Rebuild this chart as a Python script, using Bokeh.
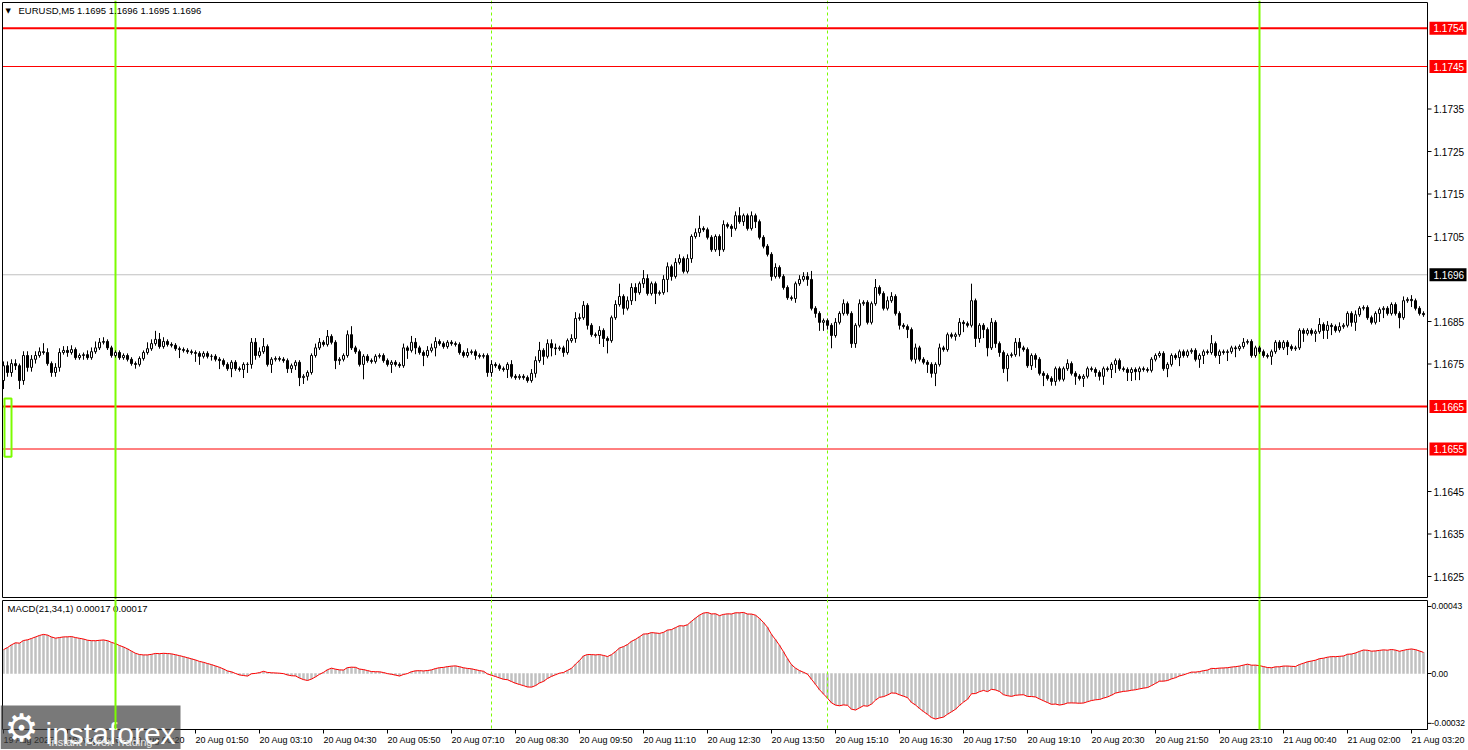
from bokeh.plotting import figure
from bokeh.models import Range1d, ColumnDataSource
from bokeh.layouts import column
from bokeh.embed import file_html
from bokeh.resources import INLINE
from bokeh.core.properties import value

FONT = "Liberation Sans"

# ---------------- data ----------------
first_open = 1.16711
closes = [
    1.16746, 1.16730, 1.16751, 1.16746, 1.16711, 1.16770, 1.16742, 1.16761, 1.16770, 1.16779,
    1.16777, 1.16751, 1.16730, 1.16742, 1.16777, 1.16782, 1.16777, 1.16784, 1.16765, 1.16770,
    1.16772, 1.16765, 1.16779, 1.16788, 1.16801, 1.16803, 1.16788, 1.16770, 1.16777, 1.16765,
    1.16770, 1.16761, 1.16751, 1.16749, 1.16763, 1.16777, 1.16786, 1.16798, 1.16808, 1.16791,
    1.16803, 1.16796, 1.16794, 1.16786, 1.16784, 1.16782, 1.16779, 1.16777, 1.16775, 1.16768,
    1.16775, 1.16768, 1.16768, 1.16761, 1.16758, 1.16749, 1.16739, 1.16754, 1.16739, 1.16737,
    1.16749, 1.16749, 1.16801, 1.16770, 1.16779, 1.16791, 1.16749, 1.16761, 1.16763, 1.16761,
    1.16758, 1.16739, 1.16746, 1.16754, 1.16718, 1.16721, 1.16730, 1.16770, 1.16788, 1.16801,
    1.16796, 1.16815, 1.16801, 1.16758, 1.16761, 1.16770, 1.16819, 1.16788, 1.16779, 1.16749,
    1.16768, 1.16758, 1.16756, 1.16768, 1.16770, 1.16758, 1.16749, 1.16754, 1.16749, 1.16746,
    1.16788, 1.16782, 1.16801, 1.16788, 1.16777, 1.16770, 1.16782, 1.16788, 1.16803, 1.16798,
    1.16791, 1.16801, 1.16798, 1.16796, 1.16777, 1.16770, 1.16777, 1.16779, 1.16770, 1.16768,
    1.16770, 1.16730, 1.16749, 1.16746, 1.16739, 1.16737, 1.16749, 1.16721, 1.16718, 1.16721,
    1.16718, 1.16711, 1.16728, 1.16758, 1.16782, 1.16768, 1.16798, 1.16788, 1.16786, 1.16788,
    1.16777, 1.16805, 1.16810, 1.16857, 1.16859, 1.16888, 1.16841, 1.16819, 1.16817, 1.16829,
    1.16810, 1.16805, 1.16859, 1.16890, 1.16909, 1.16881, 1.16899, 1.16930, 1.16918, 1.16939,
    1.16951, 1.16916, 1.16939, 1.16916, 1.16918, 1.16949, 1.16979, 1.16956, 1.16989, 1.16998,
    1.16968, 1.16998, 1.17050, 1.17059, 1.17069, 1.17066, 1.17048, 1.17019, 1.17050, 1.17019,
    1.17078, 1.17074, 1.17069, 1.17099, 1.17085, 1.17099, 1.17069, 1.17099, 1.17085, 1.17048,
    1.17027, 1.17008, 1.16956, 1.16977, 1.16956, 1.16930, 1.16906, 1.16904, 1.16939, 1.16949,
    1.16956, 1.16949, 1.16881, 1.16869, 1.16848, 1.16852, 1.16841, 1.16817, 1.16848, 1.16869,
    1.16892, 1.16869, 1.16798, 1.16841, 1.16892, 1.16895, 1.16848, 1.16892, 1.16930, 1.16916,
    1.16881, 1.16899, 1.16909, 1.16869, 1.16841, 1.16838, 1.16831, 1.16761, 1.16788, 1.16761,
    1.16754, 1.16749, 1.16728, 1.16749, 1.16788, 1.16784, 1.16819, 1.16815, 1.16819, 1.16848,
    1.16845, 1.16841, 1.16899, 1.16810, 1.16841, 1.16831, 1.16788, 1.16848, 1.16798, 1.16777,
    1.16739, 1.16770, 1.16772, 1.16801, 1.16788, 1.16784, 1.16746, 1.16770, 1.16761, 1.16728,
    1.16723, 1.16716, 1.16709, 1.16739, 1.16714, 1.16739, 1.16751, 1.16728, 1.16721, 1.16716,
    1.16721, 1.16739, 1.16737, 1.16730, 1.16721, 1.16739, 1.16737, 1.16749, 1.16758, 1.16739,
    1.16737, 1.16730, 1.16737, 1.16732, 1.16739, 1.16737, 1.16735, 1.16761, 1.16770, 1.16775,
    1.16739, 1.16749, 1.16770, 1.16765, 1.16779, 1.16770, 1.16779, 1.16782, 1.16761, 1.16770,
    1.16779, 1.16777, 1.16798, 1.16770, 1.16779, 1.16777, 1.16779, 1.16788, 1.16786, 1.16791,
    1.16801, 1.16803, 1.16770, 1.16788, 1.16779, 1.16770, 1.16768, 1.16779, 1.16801, 1.16788,
    1.16801, 1.16791, 1.16786, 1.16788, 1.16829, 1.16822, 1.16829, 1.16822, 1.16826, 1.16843,
    1.16829, 1.16841, 1.16838, 1.16829, 1.16838, 1.16841, 1.16869, 1.16848, 1.16866, 1.16881,
    1.16883, 1.16859, 1.16848, 1.16869, 1.16878, 1.16881, 1.16869, 1.16890, 1.16869, 1.16859,
    1.16899, 1.16902, 1.16899, 1.16881, 1.16869, 1.16866,
]
# wick lengths above / below the body, in pips
upper_wick_pips = [
    1, 1, 1, 1, 0.5, 1, 1, 1, 1, 1,
    2, 1, 0.5, 1, 1, 1, 1, 1, 0.5, 0.5,
    0.5, 1, 1, 1.5, 1, 1, 0.5, 0.5, 0.5, 0.5,
    0.5, 0.5, 0.5, 0.5, 0.5, 0.5, 1.5, 1, 2, 1.5,
    1, 0.5, 0.5, 0.5, 0.5, 0.5, 0.5, 0.5, 0.5, 0.5,
    0.5, 0.5, 0.5, 0.5, 0.5, 0.5, 0.5, 0.5, 0.5, 0.5,
    0.5, 0.5, 1, 1, 1, 2, 0.5, 0.5, 0.5, 0.5,
    0.5, 0.5, 0.5, 0.5, 0.5, 0.5, 0.5, 0.5, 1, 1,
    0.5, 1.5, 0.5, 0.5, 0.5, 0.5, 1, 2, 0.5, 0.5,
    0.5, 0.5, 0.5, 0.5, 0.5, 0.5, 0.5, 0.5, 0.5, 0.5,
    1, 0.5, 1.5, 1, 0.5, 0.5, 1, 1, 1, 0.5,
    0.5, 0.5, 0.5, 0.5, 0.5, 0.5, 1, 0.5, 0.5, 0.5,
    0.5, 0.5, 1, 0.5, 0.5, 0.5, 0.5, 1, 0.5, 0.5,
    0.5, 0.5, 1, 1, 2, 0.5, 1, 1, 1, 0.5,
    0.5, 0.5, 1, 1.5, 1, 1, 0.5, 0.5, 0.5, 1,
    0.5, 0.5, 0.5, 1, 3, 0.5, 1, 1, 1, 0.5,
    2, 1, 0.5, 0.5, 0.5, 1, 1, 0.5, 1, 1,
    0.5, 1, 0.5, 1, 3, 0.5, 0.5, 0.5, 0.5, 0.5,
    1, 0.5, 0.5, 1, 2, 0.5, 0.5, 1, 0.5, 0.5,
    0.5, 0.5, 0.5, 1, 0.5, 0.5, 0.5, 0.5, 0.5, 1,
    1, 1, 2, 0.5, 0.5, 0.5, 0.5, 0.5, 1, 0.5,
    1, 0.5, 0.5, 0.5, 1, 0.5, 0.5, 0.5, 2, 0.5,
    0.5, 1, 1, 0.5, 0.5, 0.5, 0.5, 0.5, 1, 0.5,
    0.5, 0.5, 0.5, 0.5, 1, 0.5, 0.5, 0.5, 0.5, 1,
    0.5, 0.5, 4, 0.5, 0.5, 0.5, 0.5, 1, 0.5, 0.5,
    0.5, 0.5, 0.5, 1, 1, 0.5, 0.5, 0.5, 0.5, 0.5,
    0.5, 0.5, 0.5, 0.5, 0.5, 0.5, 1, 0.5, 0.5, 0.5,
    0.5, 0.5, 0.5, 0.5, 0.5, 0.5, 0.5, 0.5, 0.5, 0.5,
    0.5, 0.5, 0.5, 0.5, 0.5, 0.5, 0.5, 0.5, 0.5, 0.5,
    0.5, 0.5, 0.5, 0.5, 0.5, 0.5, 0.5, 0.5, 0.5, 0.5,
    0.5, 0.5, 2, 0.5, 0.5, 0.5, 0.5, 0.5, 0.5, 0.5,
    1, 0.5, 0.5, 0.5, 0.5, 0.5, 0.5, 0.5, 0.5, 0.5,
    0.5, 0.5, 0.5, 0.5, 0.5, 0.5, 0.5, 0.5, 0.5, 1.5,
    0.5, 1, 0.5, 0.5, 1, 0.5, 0.5, 0.5, 1, 0.5,
    0.5, 0.5, 0.5, 0.5, 0.5, 0.5, 0.5, 0.5, 0.5, 0.5,
    1, 0.5, 1, 0.5, 0.5, 0.5,
]
lower_wick_pips = [
    2, 1, 1, 1, 2, 1, 1, 1, 1, 0.5,
    0.5, 0.5, 1, 1, 1, 0.5, 1, 0.5, 0.5, 0.5,
    1, 0.5, 0.5, 0.5, 0.5, 0.5, 0.5, 0.5, 0.5, 0.5,
    0.5, 0.5, 0.5, 1, 0.5, 0.5, 0.5, 0.5, 0.5, 0.5,
    0.5, 0.5, 0.5, 0.5, 2, 0.5, 0.5, 0.5, 2, 2,
    0.5, 0.5, 1, 0.5, 2, 0.5, 0.5, 2, 0.5, 0.5,
    2, 2, 1, 1, 0.5, 0.5, 0.5, 2, 0.5, 0.5,
    0.5, 1, 1, 1, 2, 1.5, 1, 0.5, 0.5, 0.5,
    0.5, 0.5, 0.5, 2, 1, 0.5, 0.5, 0.5, 0.5, 0.5,
    3.5, 0.5, 0.5, 0.5, 0.5, 0.5, 0.5, 2, 0.5, 0.5,
    0.5, 2, 0.5, 1.5, 0.5, 2.5, 0.5, 0.5, 2, 0.5,
    0.5, 0.5, 0.5, 0.5, 0.5, 0.5, 0.5, 0.5, 1, 0.5,
    0.5, 1, 1, 0.5, 0.5, 0.5, 2, 0.5, 0.5, 0.5,
    0.5, 0.5, 0.5, 1, 0.5, 2, 0.5, 2, 1.5, 0.5,
    1, 0.5, 0.5, 1, 0.5, 0.5, 1, 0.5, 0.5, 2,
    2, 3, 0.5, 0.5, 0.5, 1.5, 0.5, 1, 2, 0.5,
    1, 0.5, 0.5, 2.5, 0.5, 0.5, 3, 1, 0.5, 0.5,
    0.5, 0.5, 1, 0.5, 1, 0.5, 0.5, 0.5, 0.5, 1.5,
    0.5, 0.5, 2, 0.5, 0.5, 1, 0.5, 0.5, 1.5, 0.5,
    0.5, 0.5, 1, 0.5, 0.5, 0.5, 0.5, 0.5, 1, 0.5,
    0.5, 1.5, 0.5, 1, 2, 2, 1, 3, 0.5, 0.5,
    0.5, 0.5, 1, 1, 0.5, 0.5, 0.5, 0.5, 0.5, 0.5,
    0.5, 0.5, 0.5, 0.5, 1, 0.5, 2, 0.5, 1, 0.5,
    0.5, 2, 1, 3, 0.5, 0.5, 0.5, 0.5, 1, 0.5,
    2, 0.5, 0.5, 2, 1, 2, 2, 0.5, 1, 1,
    1, 3, 0.5, 0.5, 2, 0.5, 0.5, 1, 2, 0.5,
    2.5, 0.5, 1, 1, 0.5, 0.5, 0.5, 0.5, 2, 0.5,
    2, 0.5, 0.5, 1, 1, 2, 0.5, 2, 2, 0.5,
    0.5, 2, 2, 2, 2, 0.5, 0.5, 0.5, 0.5, 0.5,
    0.5, 2, 0.5, 0.5, 2, 0.5, 0.5, 0.5, 0.5, 2,
    2, 0.5, 0.5, 0.5, 2, 0.5, 2, 0.5, 2, 0.5,
    0.5, 0.5, 0.5, 0.5, 0.5, 0.5, 0.5, 2, 0.5, 0.5,
    0.5, 2, 0.5, 0.5, 0.5, 2, 0.5, 0.5, 2, 0.5,
    2, 2, 2, 0.5, 0.5, 0.5, 0.5, 1, 2, 0.5,
    0.5, 0.5, 0.5, 0.5, 2, 2, 0.5, 0.5, 0.5, 2.5,
    0.5, 0.5, 1.5, 0.5, 0.5, 0.5,
]

time_label_texts = [
    "19 Aug 2025", "19 Aug 23:00", "20 Aug 00:20", "20 Aug 01:50", "20 Aug 03:10",
    "20 Aug 04:30", "20 Aug 05:50", "20 Aug 07:10", "20 Aug 08:30", "20 Aug 09:50",
    "20 Aug 11:10", "20 Aug 12:30", "20 Aug 13:50", "20 Aug 15:10", "20 Aug 16:30",
    "20 Aug 17:50", "20 Aug 19:10", "20 Aug 20:30", "20 Aug 21:50", "20 Aug 23:10",
    "21 Aug 00:40", "21 Aug 02:00", "21 Aug 03:20",
]
time_label_bars = [0, 16, 32, 48, 64, 80, 96, 112, 128, 144, 160, 176, 192, 208,
                   224, 240, 256, 272, 288, 304, 320, 336, 352]

price_ticks = [1.1625, 1.1635, 1.1645, 1.1675, 1.1685, 1.1705, 1.1715, 1.1725, 1.1735]
price_tick_texts = ["1.1625", "1.1635", "1.1645", "1.1675", "1.1685",
                    "1.1705", "1.1715", "1.1725", "1.1735"]
red_levels = [1.1754, 1.1745, 1.1665, 1.1655]
red_level_widths = [2, 1, 2, 1]
red_level_texts = ["1.1754", "1.1745", "1.1665", "1.1655"]
bid_level = 1.1696
bid_text = "1.1696"
green_line_bars = [28, 314]
dashed_line_bars = [122, 206]
zone_top, zone_bottom = 1.16669, 1.16532

macd_fast, macd_slow = 21, 34
macd_start = 0.00013          # MACD value at the first visible bar
macd_fast_gap = 0.00090       # fast EMA below the first close (prior rise)
macd_ticks = [0.00043, 0.0, -0.00032]
macd_tick_texts = ["0.00043", "0.00", "-0.00032"]

title_text = "EURUSD,M5  1.1695 1.1696 1.1695 1.1696"
macd_text = "MACD(21,34,1) 0.00017 0.00017"

# ---------------- derived series ----------------
n = min(len(closes), len(upper_wick_pips), len(lower_wick_pips))
closes = closes[:n]
opens = [first_open] + closes[:n - 1]
PIP = 0.0001
xs = list(range(n))
highs = [max(o, c) + u * PIP for o, c, u in zip(opens, closes, upper_wick_pips)]
lows = [min(o, c) - l * PIP for o, c, l in zip(opens, closes, lower_wick_pips)]
up = [i for i in xs if closes[i] >= opens[i]]
dn = [i for i in xs if closes[i] < opens[i]]
src_wick = ColumnDataSource(dict(x=xs, hi=highs, lo=lows))
src_up = ColumnDataSource(dict(x=up, top=[closes[i] for i in up], bottom=[opens[i] for i in up]))
src_dn = ColumnDataSource(dict(x=dn, top=[opens[i] for i in dn], bottom=[closes[i] for i in dn]))

a_f, a_s = 2 / (macd_fast + 1), 2 / (macd_slow + 1)
ema_f = closes[0] - macd_fast_gap
ema_s = ema_f - macd_start
macd = []
for c in closes:
    ema_f += a_f * (c - ema_f)
    ema_s += a_s * (c - ema_s)
    macd.append(ema_f - ema_s)
src_macd = ColumnDataSource(dict(x=xs, m=macd, zero=[0.0] * n))

# ---------------- layout helpers (pixel geometry of the terminal) ----------------
W, P_H, M_H = 1468, 599, 150


def bx(px):            # bar coordinate of a pixel column (4 px per bar)
    return (px - 3) / 4.0


def py_p(py):          # price at a pixel row of the main panel
    return 1.1685 + (321 - py) / 42500.0


def py_m(py):          # MACD value at a (local) pixel row of the MACD panel
    return (74 - py) / 155814.0


x_range = Range1d(bx(0), bx(W))
L, R = bx(2), bx(1427)
TXT = dict(text_font=value(FONT), text_font_size="10px", text_baseline="middle",
           text_align="left")

# ---------------- main price panel ----------------
p = figure(width=W, height=P_H, x_range=x_range, y_range=Range1d(py_p(P_H), py_p(0)),
           output_backend="svg", toolbar_location=None, x_axis_location=None,
           y_axis_location=None, min_border=0, outline_line_color=None)
p.grid.visible = False
p.background_fill_color = "white"
p.border_fill_color = "white"

# horizontal levels
p.segment(x0=[L] * len(red_levels), x1=[R] * len(red_levels), y0=red_levels, y1=red_levels,
          line_color="#FF0000", line_width=red_level_widths)
p.segment(x0=[L], x1=[R], y0=[bid_level], y1=[bid_level], line_color="#C0C0C0", line_width=1)

# vertical markers
p.segment(x0=dashed_line_bars, x1=dashed_line_bars, y0=[py_p(0)] * 2, y1=[py_p(P_H)] * 2,
          line_color="#7CFC00", line_width=1, line_dash="3 3")
p.segment(x0=green_line_bars, x1=green_line_bars, y0=[py_p(0)] * 2, y1=[py_p(P_H)] * 2,
          line_color="#7CFC00", line_width=2)

# green zone bracket
p.quad(left=[bx(4)], right=[bx(11)], top=[zone_top], bottom=[zone_bottom],
       fill_color=None, line_color="#7CFC00", line_width=2)

# candles
p.segment(x0="x", x1="x", y0="lo", y1="hi", source=src_wick, line_color="black", line_width=1)
p.vbar(x="x", top="top", bottom="bottom", width=0.5, source=src_up,
       fill_color="white", line_color="black", line_width=1)
p.vbar(x="x", top="top", bottom="bottom", width=0.5, source=src_dn,
       fill_color="black", line_color="black", line_width=1)

# panel frame
p.quad(left=[L], right=[R], top=[py_p(2)], bottom=[py_p(597)],
       fill_color=None, line_color="black", line_width=1)

# price scale (right)
p.segment(x0=[R] * len(price_ticks), x1=[bx(1431)] * len(price_ticks),
          y0=price_ticks, y1=price_ticks, line_color="black", line_width=1)
p.text(x=[bx(1433)] * len(price_ticks), y=price_ticks, text=price_tick_texts,
       text_color="black", **TXT)
half = 6.5 / 42500.0
p.quad(left=[bx(1429)] * len(red_levels), right=[bx(1466)] * len(red_levels),
       top=[v + half for v in red_levels], bottom=[v - half for v in red_levels],
       fill_color="#FF0000", line_color=None)
p.text(x=[bx(1433)] * len(red_levels), y=red_levels, text=red_level_texts,
       text_color="white", **TXT)
p.quad(left=[bx(1429)], right=[bx(1466)], top=[bid_level + half], bottom=[bid_level - half],
       fill_color="black", line_color=None)
p.text(x=[bx(1433)], y=[bid_level], text=[bid_text], text_color="white", **TXT)

# header
p.text(x=[bx(5)], y=[py_p(10)], text=["\u25BC"], text_font=value("DejaVu Sans"),
       text_font_size="7px", text_baseline="middle", text_align="left", text_color="black")
p.text(x=[bx(18)], y=[py_p(10)], text=[title_text], text_color="black",
       text_font=value(FONT), text_font_size="9.5px", text_baseline="middle", text_align="left")

# ---------------- MACD panel ----------------
m = figure(width=W, height=M_H, x_range=x_range, y_range=Range1d(py_m(M_H), py_m(0)),
           output_backend="svg", toolbar_location=None, x_axis_location=None,
           y_axis_location=None, min_border=0, outline_line_color=None)
m.grid.visible = False
m.background_fill_color = "white"
m.border_fill_color = "white"

m.vbar(x="x", top="m", bottom="zero", width=0.5, source=src_macd,
       fill_color="#C0C0C0", line_color="#C0C0C0", line_width=0.5)
m.line(x="x", y="m", source=src_macd, line_color="#FF0000", line_width=1)

m.quad(left=[L], right=[R], top=[py_m(1)], bottom=[py_m(130)],
       fill_color=None, line_color="black", line_width=1)

# MACD scale (right)
m.segment(x0=[R] * 3, x1=[bx(1431)] * 3, y0=macd_ticks, y1=macd_ticks,
          line_color="black", line_width=1)
m.text(x=[bx(1431)] * 3, y=macd_ticks, text=macd_tick_texts, text_color="black",
       text_font=value(FONT), text_font_size="8.5px", text_baseline="middle",
       text_align="left")

# time scale (bottom)
m.segment(x0=time_label_bars, x1=time_label_bars, y0=[py_m(130)] * len(time_label_bars),
          y1=[py_m(134)] * len(time_label_bars), line_color="black", line_width=1)
m.text(x=time_label_bars, y=[py_m(140)] * len(time_label_bars), text=time_label_texts,
       text_color="black", text_font=value(FONT), text_font_size="9px",
       text_baseline="middle", text_align="left")

m.text(x=[bx(7)], y=[py_m(9)], text=[macd_text], text_color="black",
       text_font=value(FONT), text_font_size="9.5px", text_baseline="middle", text_align="left")

# watermark
m.quad(left=[bx(0)], right=[bx(180)], top=[py_m(106)], bottom=[py_m(M_H)],
       fill_color="#404040", fill_alpha=0.7, line_color=None)
m.text(x=[bx(4)], y=[py_m(128)], text=["\u2699"], text_font=value("DejaVu Sans"),
       text_font_size="38px", text_baseline="middle", text_align="left", text_color="white")
m.text(x=[bx(45)], y=[py_m(134)], text=["instaforex"], text_font=value(FONT),
       text_font_size="30px", text_baseline="alphabetic", text_align="left", text_color="white")
m.text(x=[bx(48)], y=[py_m(142)], text=["Instant Forex Trading"], text_font=value(FONT),
       text_font_size="11px", text_baseline="middle", text_align="left", text_color="#E6E6E6")

m.segment(x0=dashed_line_bars, x1=dashed_line_bars, y0=[py_m(0)] * 2, y1=[py_m(130)] * 2,
          line_color="#7CFC00", line_width=1, line_dash="3 3")
m.segment(x0=green_line_bars, x1=green_line_bars, y0=[py_m(0)] * 2, y1=[py_m(130)] * 2,
          line_color="#7CFC00", line_width=2)

layout = column(p, m, spacing=0)
open("out.html", "w").write(file_html(layout, INLINE))
